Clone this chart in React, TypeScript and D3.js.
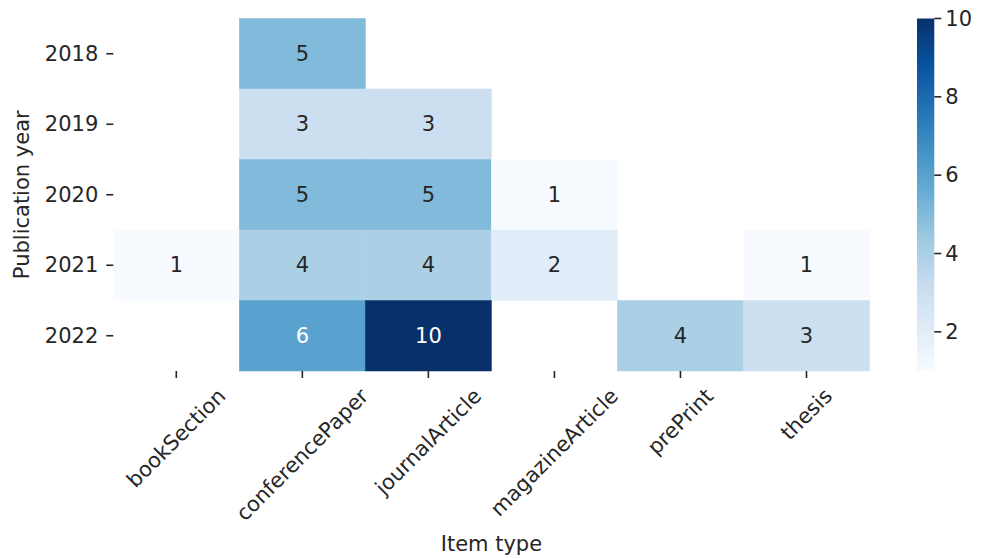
import React, { useEffect, useRef } from "react";
import * as d3 from "d3";

const years = ["2018", "2019", "2020", "2021", "2022"];
const itemTypes = ["bookSection", "conferencePaper", "journalArticle", "magazineArticle", "prePrint", "thesis"];
const counts2018 = [null, 5, null, null, null, null];
const counts2019 = [null, 3, 3, null, null, null];
const counts2020 = [null, 5, 5, 1, null, null];
const counts2021 = [1, 4, 4, 2, null, 1];
const counts2022 = [null, 6, 10, null, 4, 3];
const colorbarTicks = [2, 4, 6, 8, 10];
const bluesStops = ["#f7fbff", "#deebf7", "#c6dbef", "#9ecae1", "#6baed6", "#4292c6", "#2171b5", "#08519c", "#08306b"];

const W = 988, H = 558;
const FONT = "DejaVu Sans";
const FS = 21;

export default function App() {
  const ref = useRef<SVGSVGElement>(null);
  useEffect(() => {
    const svg = d3.select(ref.current);
    svg.selectAll("*").remove();
    const rows = [counts2018, counts2019, counts2020, counts2021, counts2022];
    const left = 113.3, right = 869.5, top = 18.5, bottom = 371;
    const x = d3.scaleBand().domain(itemTypes).range([left, right]);
    const y = d3.scaleBand().domain(years).range([top, bottom]);
    const vmin = 1, vmax = 10;
    const color = d3.scaleLinear<string>()
      .domain(bluesStops.map((_, i) => vmin + (i * (vmax - vmin)) / (bluesStops.length - 1)))
      .range(bluesStops)
      .interpolate(d3.interpolateRgb)
      .clamp(true);

    const cells: { yr: string; t: string; v: number }[] = [];
    rows.forEach((r, i) => r.forEach((v, j) => { if (v != null) cells.push({ yr: years[i], t: itemTypes[j], v: v as number }); }));

    const g = svg.append("g");
    g.selectAll("rect.cell").data(cells).enter().append("rect")
      .attr("x", d => x(d.t)!).attr("y", d => y(d.yr)!)
      .attr("width", x.bandwidth()).attr("height", y.bandwidth())
      .attr("fill", d => color(d.v)).attr("stroke", d => color(d.v)).attr("stroke-width", 0.5);

    const lum = (c: string) => {
      const rgb = d3.rgb(c);
      const f = (u: number) => { u /= 255; return u <= 0.03928 ? u / 12.92 : Math.pow((u + 0.055) / 1.055, 2.4); };
      return 0.2126 * f(rgb.r) + 0.7152 * f(rgb.g) + 0.0722 * f(rgb.b);
    };
    g.selectAll("text.ann").data(cells).enter().append("text")
      .attr("x", d => x(d.t)! + x.bandwidth() / 2).attr("y", d => y(d.yr)! + y.bandwidth() / 2)
      .attr("text-anchor", "middle").attr("dominant-baseline", "central")
      .attr("font-family", FONT).attr("font-size", FS)
      .attr("fill", d => (lum(color(d.v)) > 0.408 ? "#262626" : "#ffffff"))
      .text(d => String(d.v));

    // y axis ticks
    years.forEach(yr => {
      const cy = y(yr)! + y.bandwidth() / 2;
      g.append("line").attr("x1", left - 7).attr("x2", left).attr("y1", cy).attr("y2", cy)
        .attr("stroke", "#262626").attr("stroke-width", 1.6);
      g.append("text").attr("x", left - 15).attr("y", cy).attr("text-anchor", "end")
        .attr("dominant-baseline", "central").attr("font-family", FONT).attr("font-size", FS)
        .attr("fill", "#262626").text(yr);
    });

    // x axis ticks
    itemTypes.forEach(t => {
      const cx = x(t)! + x.bandwidth() / 2;
      g.append("line").attr("x1", cx).attr("x2", cx).attr("y1", bottom).attr("y2", bottom + 7)
        .attr("stroke", "#262626").attr("stroke-width", 1.6);
      const txt = g.append("text").attr("text-anchor", "middle").attr("dominant-baseline", "central")
        .attr("font-family", FONT).attr("font-size", FS).attr("fill", "#262626").text(t);
      const w = (txt.node() as SVGTextElement).getComputedTextLength();
      const h = FS;
      const ay = bottom + 14 + (w / 2 + h / 2) / Math.SQRT2;
      txt.attr("transform", `translate(${cx},${ay}) rotate(-45)`);
    });

    // axis labels
    g.append("text").attr("x", (left + right) / 2).attr("y", 544).attr("text-anchor", "middle")
      .attr("dominant-baseline", "central").attr("font-family", FONT).attr("font-size", FS)
      .attr("fill", "#262626").text("Item type");
    g.append("text").attr("transform", `translate(22,${(top + bottom) / 2}) rotate(-90)`)
      .attr("text-anchor", "middle").attr("dominant-baseline", "central")
      .attr("font-family", FONT).attr("font-size", FS).attr("fill", "#262626").text("Publication year");

    // colorbar
    const cbL = 917, cbR = 934.3;
    const cy = d3.scaleLinear().domain([vmin, vmax]).range([bottom, top]);
    const defs = svg.append("defs");
    const grad = defs.append("linearGradient").attr("id", "cbgrad")
      .attr("x1", 0).attr("x2", 0).attr("y1", 1).attr("y2", 0);
    bluesStops.forEach((c, i) => grad.append("stop").attr("offset", i / (bluesStops.length - 1)).attr("stop-color", c));
    g.append("rect").attr("x", cbL).attr("y", cy(vmax)).attr("width", cbR - cbL)
      .attr("height", cy(vmin) - cy(vmax)).attr("fill", "url(#cbgrad)");
    colorbarTicks.forEach(v => {
      const ty = cy(v);
      g.append("line").attr("x1", cbR).attr("x2", cbR + 7).attr("y1", ty).attr("y2", ty)
        .attr("stroke", "#262626").attr("stroke-width", 1.6);
      g.append("text").attr("x", cbR + 11).attr("y", ty).attr("dominant-baseline", "central")
        .attr("font-family", FONT).attr("font-size", FS).attr("fill", "#262626").text(String(v));
    });
  }, []);
  return (
    <svg ref={ref} width={W} height={H} style={{ position: "absolute", left: 0, top: 0, background: "#fff" }} />
  );
}
